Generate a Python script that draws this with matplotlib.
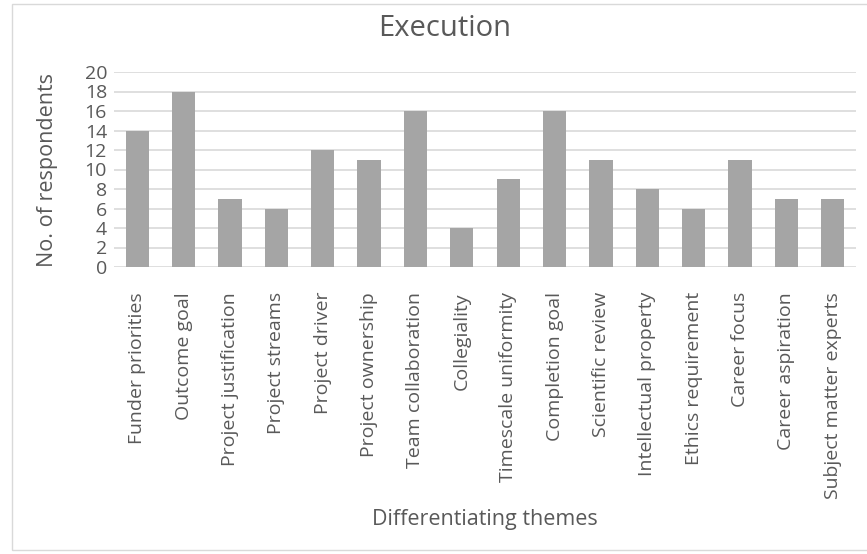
import matplotlib
matplotlib.use("Agg")
import matplotlib.pyplot as plt
from matplotlib.patches import Rectangle

themes = ["Funder priorities", "Outcome goal", "Project justification",
          "Project streams", "Project driver", "Project ownership",
          "Team collaboration", "Collegiality", "Timescale uniformity",
          "Completion goal", "Scientific review", "Intellectual property",
          "Ethics requirement", "Career focus", "Career aspiration",
          "Subject matter experts"]
respondents = [14, 18, 7, 6, 12, 11, 16, 4, 9, 16, 11, 8, 6, 11, 7, 7]
y_ticks = list(range(0, 21, 2))

TEXT = "#595959"
plt.rcParams["font.family"] = ["Open Sans", "DejaVu Sans"]

W, H = 867, 554
fig = plt.figure(figsize=(W / 100, H / 100), dpi=100)
# chart frame, open on the right edge
fig.patches.append(Rectangle((12 / W, 4 / H), 1.0, 546 / H, transform=fig.transFigure,
                             fill=False, edgecolor="#d9d9d9", linewidth=1))
ax = fig.add_axes([114 / W, 1 - 267 / H, (856 - 114) / W, (267 - 72) / H])

x = range(len(themes))
ax.bar(x, respondents, width=0.5, color="#a5a5a5", zorder=3)
ax.set_xlim(-0.5, len(themes) - 0.5)
ax.set_ylim(0, 20)
ax.set_yticks(y_ticks)
ax.set_xticks(list(x))
ax.set_xticklabels(themes, rotation=90, fontsize=14, color=TEXT)
ax.tick_params(axis="y", labelsize=14, labelcolor=TEXT, length=0, pad=5)
ax.tick_params(axis="x", length=0, pad=18)
ax.grid(axis="y", color="#d9d9d9", linewidth=1.2, zorder=0)
for s in ax.spines.values():
    s.set_visible(False)

fig.text(48 / W, 1 - 170 / H, "No. of respondents", rotation=90, ha="center",
         va="center", fontsize=15.5, color=TEXT)
fig.text(485 / W, 1 - 519 / H, "Differentiating themes", ha="center", va="center",
         fontsize=15.5, color=TEXT)
fig.text(445 / W, 1 - 28 / H, "Execution", ha="center", va="center",
         fontsize=21, color=TEXT)

fig.savefig("out.png", dpi=100)
